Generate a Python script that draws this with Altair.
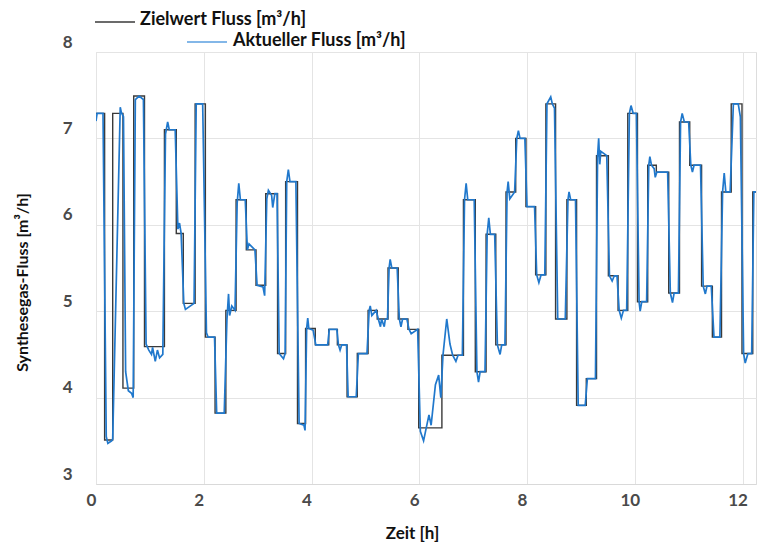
import altair as alt
import pandas as pd

# Zielwert (setpoint) step series: start time of each step [h] and its value [m3/h]
ziel_t = [0.00, 0.16, 0.31, 0.50, 0.70, 0.90, 1.27, 1.49, 1.62, 1.84, 2.03, 2.21, 2.41, 2.60,
          2.79, 2.97, 3.15, 3.37, 3.52, 3.74, 3.89, 4.07, 4.32, 4.48, 4.66, 4.85, 5.05, 5.22,
          5.42, 5.61, 5.79, 5.99, 6.42, 6.82, 7.04, 7.24, 7.42, 7.61, 7.79, 7.98, 8.16, 8.35,
          8.53, 8.74, 8.92, 9.10, 9.29, 9.51, 9.69, 9.87, 10.05, 10.24, 10.40, 10.63, 10.83,
          11.02, 11.24, 11.44, 11.61, 11.79, 11.99, 12.19, 12.30]
ziel_v = [7.29, 3.51, 7.29, 4.11, 7.49, 4.59, 7.10, 5.90, 5.09, 7.40, 4.70, 3.82, 5.01, 6.29,
          5.71, 5.30, 6.36, 4.51, 6.50, 3.70, 4.80, 4.61, 4.79, 4.61, 4.01, 4.51, 5.01, 4.91,
          5.50, 4.91, 4.79, 3.65, 4.49, 6.29, 4.30, 5.89, 4.61, 6.38, 7.00, 6.21, 5.42, 7.40,
          4.91, 6.29, 3.91, 4.22, 6.80, 5.41, 5.01, 7.29, 5.11, 6.69, 6.61, 5.21, 7.19,
          6.69, 5.29, 4.70, 6.38, 7.40, 4.51, 6.38, 6.38]

ist_t = [0.00, 0.02, 0.13, 0.19, 0.22, 0.29, 0.31, 0.45, 0.47, 0.51, 0.55, 0.60, 0.66, 0.69,
         0.73, 0.80, 0.88, 0.93, 0.98, 1.03, 1.05, 1.10, 1.14, 1.18, 1.24, 1.29, 1.33, 1.36,
         1.47, 1.52, 1.55, 1.58, 1.63, 1.66, 1.82, 1.86, 1.98, 2.05, 2.08, 2.20, 2.24, 2.38,
         2.43, 2.46, 2.48, 2.52, 2.58, 2.62, 2.65, 2.68, 2.77, 2.81, 2.84, 2.95, 2.99, 3.10,
         3.13, 3.17, 3.20, 3.26, 3.28, 3.32, 3.36, 3.40, 3.48, 3.51, 3.54, 3.57, 3.60, 3.71,
         3.77, 3.86, 3.88, 3.91, 3.93, 3.95, 4.03, 4.08, 4.30, 4.33, 4.47, 4.50, 4.53, 4.56,
         4.65, 4.68, 4.83, 4.87, 5.03, 5.07, 5.09, 5.12, 5.20, 5.24, 5.28, 5.30, 5.35, 5.37,
         5.41, 5.44, 5.46, 5.49, 5.59, 5.63, 5.66, 5.69, 5.77, 5.81, 5.85, 5.97, 6.02, 6.08,
         6.12, 6.18, 6.22, 6.30, 6.36, 6.40, 6.44, 6.51, 6.57, 6.62, 6.68, 6.72, 6.80, 6.84,
         6.87, 6.90, 7.02, 7.07, 7.10, 7.13, 7.22, 7.26, 7.29, 7.32, 7.40, 7.45, 7.50, 7.53,
         7.59, 7.63, 7.65, 7.68, 7.77, 7.81, 7.84, 7.87, 7.96, 8.00, 8.14, 8.18, 8.22, 8.26,
         8.33, 8.37, 8.44, 8.47, 8.51, 8.57, 8.71, 8.76, 8.78, 8.81, 8.90, 8.95, 9.08, 9.12,
         9.27, 9.31, 9.33, 9.35, 9.37, 9.48, 9.53, 9.58, 9.62, 9.67, 9.71, 9.75, 9.79, 9.85,
         9.90, 9.93, 9.97, 10.03, 10.08, 10.10, 10.13, 10.22, 10.26, 10.28, 10.31, 10.36,
         10.38, 10.41, 10.61, 10.66, 10.70, 10.73, 10.81, 10.85, 10.88, 10.92, 11.00, 11.04,
         11.07, 11.10, 11.22, 11.27, 11.31, 11.34, 11.42, 11.47, 11.58, 11.63, 11.66, 11.69,
         11.77, 11.83, 11.92, 11.96, 12.02, 12.05, 12.10, 12.17, 12.21, 12.30]
ist_v = [7.20, 7.29, 7.29, 3.55, 3.47, 3.50, 3.52, 7.36, 7.30, 7.25, 4.30, 4.08, 4.05, 4.00,
         7.45, 7.49, 7.45, 4.62, 4.55, 4.50, 4.58, 4.42, 4.55, 4.46, 4.50, 7.05, 7.19, 7.10,
         7.10, 5.95, 6.02, 5.90, 5.09, 5.02, 5.09, 7.40, 7.40, 4.75, 4.70, 4.70, 3.82, 3.82,
         4.90, 5.20, 4.95, 5.06, 5.01, 6.25, 6.48, 6.29, 6.29, 5.71, 5.78, 5.71, 5.30, 5.28,
         5.18, 6.30, 6.40, 6.34, 6.20, 6.36, 6.36, 4.51, 4.45, 4.51, 6.50, 6.64, 6.50, 6.50,
         3.70, 3.68, 3.62, 4.80, 4.92, 4.80, 4.78, 4.61, 4.61, 4.79, 4.79, 4.61, 4.55, 4.61,
         4.61, 4.01, 4.01, 4.51, 4.51, 5.01, 5.06, 4.95, 5.01, 4.91, 4.82, 4.91, 4.82, 4.91,
         4.91, 5.50, 5.60, 5.50, 5.50, 4.91, 4.82, 4.91, 4.91, 4.79, 4.74, 4.79, 3.61, 3.50,
         3.62, 3.80, 3.68, 4.15, 4.26, 4.00, 4.49, 4.91, 4.62, 4.49, 4.42, 4.49, 4.49, 6.29,
         6.48, 6.29, 6.29, 4.30, 4.18, 4.30, 4.30, 5.89, 6.08, 5.89, 5.89, 4.61, 4.50, 4.61,
         4.61, 6.38, 6.50, 6.30, 6.38, 7.00, 7.09, 7.00, 7.00, 6.21, 6.21, 5.42, 5.33, 5.42,
         5.42, 7.40, 7.48, 7.40, 7.35, 4.91, 4.91, 6.29, 6.38, 6.29, 6.29, 3.91, 3.91, 4.22,
         4.22, 6.80, 7.00, 6.70, 6.85, 6.80, 5.41, 5.35, 5.41, 5.41, 5.01, 4.92, 5.01, 5.01,
         7.29, 7.38, 7.29, 7.29, 5.11, 5.00, 5.11, 5.11, 6.69, 6.79, 6.69, 6.65,
         6.55, 6.61, 6.61, 5.21, 5.10, 5.21, 5.21, 7.19, 7.29, 7.19, 7.19, 6.69,
         6.61, 6.69, 6.69, 5.29, 5.20, 5.29, 5.29, 4.70, 4.70, 6.38, 6.60, 6.38,
         6.38, 7.40, 7.40, 7.25, 4.51, 4.40, 4.51, 4.51, 6.38, 6.38]

x_ticks = [0, 2, 4, 6, 8, 10, 12]
y_ticks = [3, 4, 5, 6, 7, 8]
legend_labels = ["Zielwert Fluss [m³/h]", "Aktueller Fluss [m³/h]"]

ziel_df = pd.DataFrame({"t": ziel_t, "v": ziel_v})
ist_df = pd.DataFrame({"t": ist_t, "v": ist_v})

FONT = "Lato"
BLACK = "#3a3a3a"
BLUE = "#2078cc"

x_enc = alt.X("t:Q", scale=alt.Scale(domain=[0, 12.25], nice=False, zero=False),
              axis=alt.Axis(values=x_ticks, format="d", title="Zeit [h]", labelFont=FONT,
                            labelFontSize=17, labelFontWeight="bold", labelColor="#4a4a4a",
                            labelPadding=8, labelOffset=-5, titleFont=FONT, titleFontSize=17,
                            titleFontWeight="bold", titleColor="#111", titlePadding=17,
                            titleX=316, ticks=False, domainColor="#d9d9d9",
                            gridColor="#e4e4e4", labelFlush=False))
y_enc = alt.Y("v:Q", scale=alt.Scale(domain=[3, 8], nice=False, zero=False),
              axis=alt.Axis(values=y_ticks, format="d", title="Synthesegas-Fluss [m³/h]",
                            labelFont=FONT, labelFontSize=17, labelFontWeight="bold",
                            labelColor="#4a4a4a", labelPadding=24, labelOffset=-10,
                            titleFont=FONT, titleFontSize=16, titleFontWeight="bold",
                            titleColor="#111", titlePadding=32, titleY=230, ticks=False,
                            domain=False, gridColor="#e4e4e4"))

ziel_line = alt.Chart(ziel_df).mark_line(
    interpolate="step-after", color=BLACK, strokeWidth=1.4, clip=True
).encode(x=x_enc, y=y_enc)

ist_line = alt.Chart(ist_df).mark_line(
    color=BLUE, strokeWidth=1.7, clip=True
).encode(x="t:Q", y="v:Q")

one = pd.DataFrame({"k": [0]})
leg1_line = alt.Chart(one).mark_rule(color=BLACK, strokeWidth=1.3).encode(
    x=alt.value(-1), x2=alt.value(39), y=alt.value(-30))
leg1_text = alt.Chart(one).mark_text(
    align="left", baseline="middle", font=FONT, fontSize=18, fontWeight="bold", color="#111"
).encode(x=alt.value(44), y=alt.value(-32), text=alt.value(legend_labels[0]))
leg2_line = alt.Chart(one).mark_rule(color="#5a9fe0", strokeWidth=1.6).encode(
    x=alt.value(91), x2=alt.value(131), y=alt.value(-10))
leg2_text = alt.Chart(one).mark_text(
    align="left", baseline="middle", font=FONT, fontSize=18, fontWeight="bold", color="#111"
).encode(x=alt.value(137), y=alt.value(-11), text=alt.value(legend_labels[1]))

chart = alt.layer(ziel_line, ist_line, leg1_line, leg1_text, leg2_line, leg2_text).properties(
    width=660, height=432,
    autosize=alt.AutoSizeParams(type="none"),
    padding={"left": 96, "top": 52, "right": 1, "bottom": 59},
).configure_view(stroke=None).configure(background="white")

chart.save("out.html", embed_options={"renderer": "svg", "actions": False})
